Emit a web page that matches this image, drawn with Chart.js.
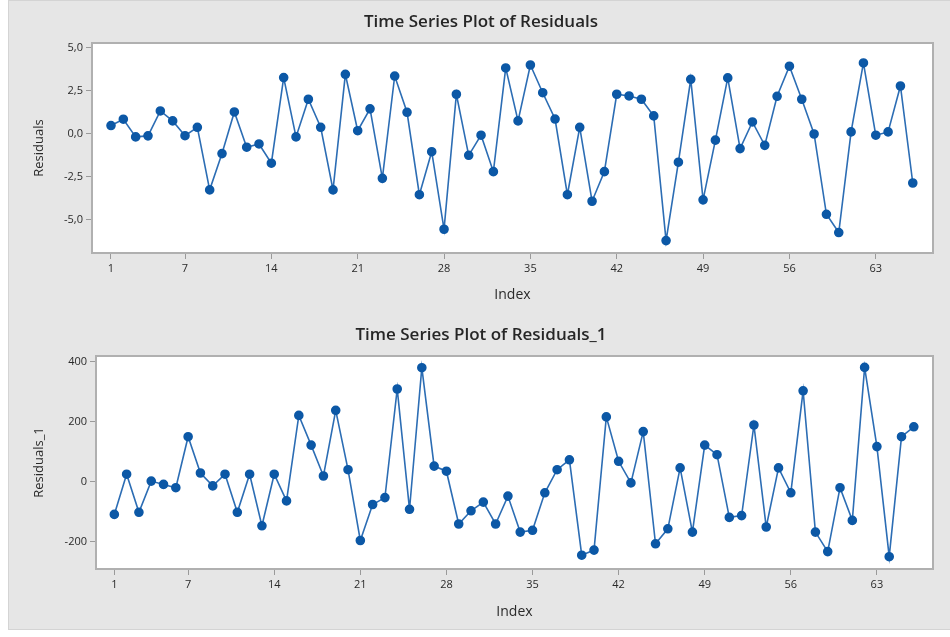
<!DOCTYPE html>
<html><head><meta charset="utf-8">
<script src="https://cdn.jsdelivr.net/npm/chart.js@4.4.0/dist/chart.umd.min.js"></script>
<style>
html,body{margin:0;padding:0;background:#fff;width:950px;height:637px;overflow:hidden}
#panel{position:absolute;left:8px;top:0;width:942px;height:630px;background:#e6e6e6;box-sizing:border-box;border:1px solid #d4d4d4;border-right:none}
canvas{position:absolute;left:0}
#c1{top:0}
#c2{top:313px}
</style></head><body>
<div id="panel"></div>
<canvas id="c1" width="950" height="313"></canvas>
<canvas id="c2" width="950" height="317"></canvas>
<script>
// ---- data ----
const residuals = [0.47,0.84,-0.19,-0.13,1.32,0.74,-0.12,0.37,-3.27,-1.16,
  1.26,-0.79,-0.60,-1.72,3.26,-0.19,2.0,0.37,-3.27,3.45,
  0.17,1.44,-2.6,3.35,1.24,-3.55,-1.05,-5.56,2.29,-1.26,
  -0.09,-2.21,3.82,0.74,3.99,2.38,0.85,-3.55,0.37,-3.93,
  -2.21,2.29,2.19,2.0,1.03,-6.22,-1.66,3.16,-3.85,-0.38,
  3.24,-0.87,0.68,-0.68,2.17,3.92,2.0,-0.02,-4.69,-5.75,
  0.1,4.11,-0.09,0.1,2.77,-2.87];
const residuals1 = [-109,25,-102,2,-9,-20,150,29,-14,25,
  -102,25,-147,25,-64,221,122,19,238,40,
  -196,-76,-53,309,-92,380,52,35,-141,-97,
  -68,-141,-48,-168,-162,-37,40,73,-245,-228,
  216,68,-4,167,-207,-157,46,-168,122,90,
  -119,-113,189,-151,46,-37,303,-168,-233,-20,
  -129,381,117,-250,150,183];
const indexValues = residuals.map((_, i) => i + 1);
const xTickValues = [1,7,14,21,28,35,42,49,56,63];
const yTicksTop = [-5,-2.5,0,2.5,5];
const yTicksBottom = [-200,0,200,400];
const titleTop = 'Time Series Plot of Residuals';
const titleBottom = 'Time Series Plot of Residuals_1';
const yTitleTop = 'Residuals';
const yTitleBottom = 'Residuals_1';
const xTitle = 'Index';

// ---- styling ----
const FONT = "'Open Sans', 'Noto Sans', sans-serif";
const BLUE = '#0c58a6';
const LINE = '#2c6db4';
const FRAME = '#b0b0b0';

const framePlugin = {
  id: 'frame',
  beforeDraw(chart) {
    const {ctx, chartArea: a} = chart;
    ctx.save();
    ctx.fillStyle = '#ffffff';
    ctx.fillRect(a.left, a.top, a.right - a.left, a.bottom - a.top);
    ctx.restore();
  },
  afterDatasetsDraw(chart) {
    const {ctx, chartArea: a} = chart;
    ctx.save();
    ctx.strokeStyle = FRAME;
    ctx.lineWidth = 2;
    ctx.strokeRect(a.left, a.top, a.right - a.left, a.bottom - a.top);
    ctx.restore();
  }
};

function makeChart(id, values, cfg) {
  const pts = indexValues.map((x, i) => ({x: x, y: values[i]}));
  return new Chart(document.getElementById(id), {
    type: 'line',
    data: {datasets: [{
      data: pts,
      borderColor: LINE,
      backgroundColor: BLUE,
      pointBackgroundColor: BLUE,
      pointBorderColor: BLUE,
      borderWidth: 1.6,
      pointRadius: 4,
      pointHoverRadius: 4,
      tension: 0
    }]},
    options: {
      responsive: false,
      animation: false,
      events: [],
      layout: {padding: {left: 29, right: 17, top: 0, bottom: 0}},
      plugins: {
        legend: {display: false},
        tooltip: {enabled: false},
        title: {
          display: true, text: cfg.title, color: '#262626',
          font: {family: FONT, size: 17, weight: '600'},
          padding: {top: 12, bottom: 10.6}
        }
      },
      scales: {
        x: {
          type: 'linear', min: cfg.xMin, max: cfg.xMax,
          afterBuildTicks(s) { s.ticks = xTickValues.map(v => ({value: v})); },
          afterFit(s) { s.height = cfg.xH; },
          border: {display: false},
          grid: {drawOnChartArea: false, drawTicks: true, tickLength: 6, color: '#9a9a9a', lineWidth: 1},
          ticks: {color: '#2a2a2a', font: {family: FONT, size: 11}, padding: 3, maxRotation: 0, autoSkip: false,
                  callback: v => String(v)},
          title: {display: true, text: xTitle, color: '#2a2a2a', font: {family: FONT, size: 14},
                  padding: {top: 0, bottom: 9.6}}
        },
        y: {
          min: cfg.yMin, max: cfg.yMax,
          afterBuildTicks(s) { s.ticks = cfg.yTicks.map(v => ({value: v})); },
          afterFit(s) { s.width = cfg.yW; },
          border: {display: false},
          grid: {drawOnChartArea: false, drawTicks: true, tickLength: 6, color: '#9a9a9a', lineWidth: 1},
          ticks: {color: '#2a2a2a', font: {family: FONT, size: 11}, padding: 3, autoSkip: false,
                  callback: cfg.fmt},
          title: {display: true, text: cfg.yTitle, color: '#2a2a2a', font: {family: FONT, size: 13},
                  padding: {top: 2.2, bottom: 0}}
        }
      }
    },
    plugins: [framePlugin]
  });
}

makeChart('c1', residuals, {
  title: titleTop, yTitle: yTitleTop, yTicks: yTicksTop,
  yMin: -6.94, yMax: 5.27, xMin: -0.54, xMax: 67.64, xH: 60, yW: 63,
  fmt: v => v.toFixed(1).replace('.', ',')
});
makeChart('c2', residuals1, {
  title: titleBottom, yTitle: yTitleBottom, yTicks: yTicksBottom,
  yMin: -291, yMax: 419, xMin: -0.49, xMax: 67.56, xH: 61, yW: 67,
  fmt: v => String(v)
});
</script>
</body></html>
